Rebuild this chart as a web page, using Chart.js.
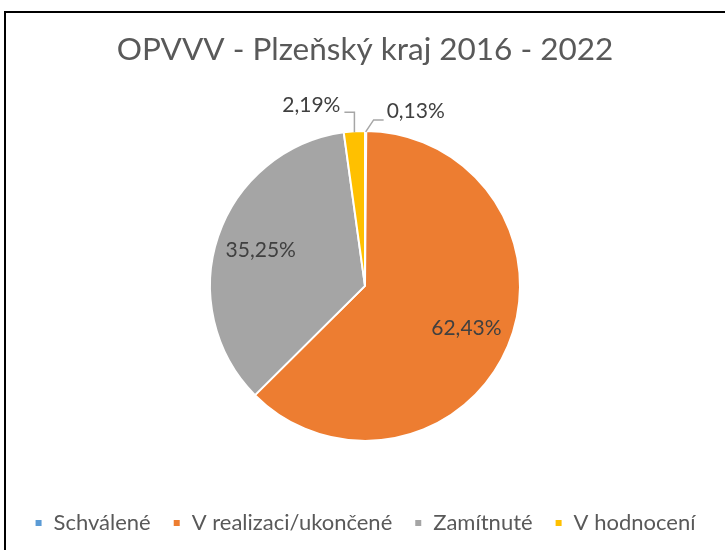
<!DOCTYPE html>
<html><head><meta charset="utf-8">
<script src="https://cdn.jsdelivr.net/npm/chart.js@4/dist/chart.umd.min.js"></script>
<style>
html,body{margin:0;padding:0;background:#fff;overflow:hidden;width:725px;height:550px}
#frame{position:absolute;left:4px;top:11px;width:800px;height:700px;border-left:2px solid #000;border-top:2px solid #000;box-sizing:border-box}
#wrap{position:absolute;left:0;top:0;width:725px;height:550px}
</style></head>
<body><div id="frame"></div><div id="wrap"><canvas id="c"></canvas></div>
<script>
const titleText = 'OPVVV - Plzeňský kraj 2016 - 2022';
const categories = ['Schválené', 'V realizaci/ukončené', 'Zamítnuté', 'V hodnocení'];
const shares = [0.13, 62.43, 35.25, 2.19];
const valueLabels = ['0,13%', '62,43%', '35,25%', '2,19%'];

const FONT = 'Lato';
const labelPlugin = {
  id: 'sliceLabels',
  afterDatasetsDraw(chart) {
    const ctx = chart.ctx;
    const meta = chart.getDatasetMeta(0);
    ctx.save();
    ctx.font = '21px ' + FONT;
    ctx.fillStyle = '#404040';
    ctx.textBaseline = 'middle';
    meta.data.forEach((arc, i) => {
      const p = arc.getProps(['x', 'y', 'startAngle', 'endAngle', 'outerRadius'], true);
      const mid = (p.startAngle + p.endAngle) / 2;
      const txt = valueLabels[i];
      if (shares[i] > 10) {
        const r = p.outerRadius * 0.71;
        ctx.textAlign = 'center';
        ctx.fillText(txt, p.x + Math.cos(mid) * r, p.y + Math.sin(mid) * r);
      } else {
        const ex = p.x + Math.cos(mid) * (p.outerRadius - 1);
        const ey = p.y + Math.sin(mid) * (p.outerRadius - 1);
        ctx.strokeStyle = '#A6A6A6';
        ctx.lineWidth = 1.5;
        ctx.beginPath();
        if (Math.cos(mid) < 0) {
          const by = ey - 20;
          ctx.moveTo(ex, ey); ctx.lineTo(ex, by); ctx.lineTo(ex - 10, by);
          ctx.stroke();
          ctx.textAlign = 'right';
          ctx.fillText(txt, ex - 14, by - 7);
        } else {
          const bx = ex + 8, by = ey - 12;
          ctx.moveTo(ex, ey); ctx.lineTo(bx, by); ctx.lineTo(bx + 10, by);
          ctx.stroke();
          ctx.textAlign = 'left';
          ctx.fillText(txt, bx + 13, by - 9);
        }
      }
    });
    ctx.restore();
  }
};

new Chart(document.getElementById('c'), {
  type: 'pie',
  data: {
    labels: categories,
    datasets: [{
      data: shares,
      backgroundColor: ['#5B9BD5', '#ED7D31', '#A5A5A5', '#FFC000'],
      borderColor: '#FFFFFF',
      borderWidth: 2,
      radius: 155
    }]
  },
  options: {
    responsive: true,
    maintainAspectRatio: false,
    animation: false,
    layout: { padding: { left: 5, right: 0, top: 0, bottom: 6 } },
    plugins: {
      title: {
        display: true,
        text: titleText,
        color: '#595959',
        font: { family: FONT, size: 31.5, weight: 'normal' },
        padding: { top: 31, bottom: 13 }
      },
      legend: {
        position: 'bottom',
        labels: {
          color: '#595959',
          font: { family: FONT, size: 22 },
          boxWidth: 8,
          boxHeight: 8,
          padding: 22
        }
      },
      tooltip: { enabled: false }
    }
  },
  plugins: [labelPlugin]
});
</script>
</body></html>
